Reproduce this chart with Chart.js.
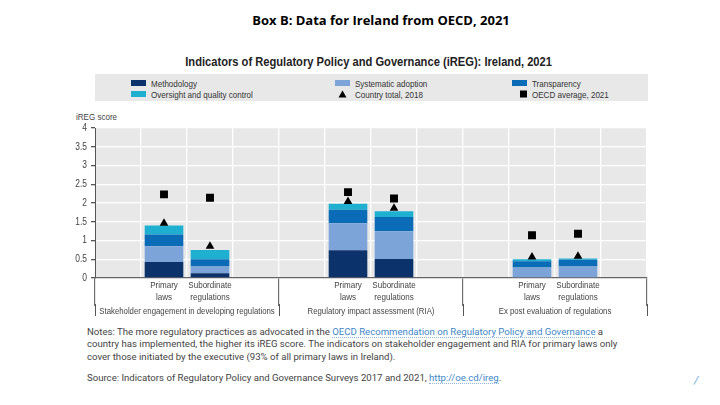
<!DOCTYPE html>
<html>
<head>
<meta charset="utf-8">
<script src="https://cdn.jsdelivr.net/npm/chart.js@4.4.1/dist/chart.umd.min.js"></script>
<style>
  body { margin: 0; width: 720px; height: 405px; background: #fff; position: relative; overflow: hidden; font-family: Roboto, "Liberation Sans", sans-serif; }
  .narrow { font-family: "Liberation Sans", Arial, sans-serif; display: inline-block; transform: scaleX(0.82); white-space: nowrap; }
  #boxTitle { position: absolute; left: 0; width: 762px; top: 11px; text-align: center; font: 700 13px "Open Sans", "Noto Sans", sans-serif; color: #000; }
  #chartTitle { position: absolute; left: 0; width: 738px; top: 53px; text-align: center; font-weight: 700; font-size: 13.6px; color: #222; }
  #chartTitle .narrow { transform-origin: 50% 50%; }
  #legend { position: absolute; left: 95px; top: 74px; width: 553px; height: 27px; background: #e8e8e8; color: #333; font-size: 9.8px; }
  .item { position: absolute; height: 11px; line-height: 11px; white-space: nowrap; }
  .sw { position: absolute; left: 0; top: 2px; width: 15px; height: 6px; }
  .mk { position: absolute; left: 0; top: 0; width: 15px; height: 11px; }
  .item span.narrow { position: absolute; left: 20px; top: 0; transform-origin: 0 50%; }
  #yTitle { position: absolute; left: 76px; top: 111px; font-size: 9.8px; color: #444; }
  #yTitle .narrow { transform-origin: 0 50%; }
  #wrap { position: absolute; left: 40px; top: 104px; width: 620px; height: 220px; }
  #notes { position: absolute; left: 87px; top: 325.5px; font-size: 9.6px; line-height: 12.5px; color: #444; white-space: nowrap; }
  #source { position: absolute; left: 87px; top: 372px; font-size: 9.6px; line-height: 12px; color: #444; white-space: nowrap; }
  .lnk { color: #3d86c6; border-bottom: 1px dotted #8fb6dc; }
  #slash { position: absolute; left: 694px; top: 374px; font-size: 11px; color: #6aa7d6; font-style: italic; }
</style>
</head>
<body>
<div id="boxTitle">Box B: Data for Ireland from OECD, 2021</div>
<div id="chartTitle"><span class="narrow">Indicators of Regulatory Policy and Governance (iREG): Ireland, 2021</span></div>
<div id="legend"></div>
<div id="yTitle"><span class="narrow">iREG score</span></div>
<div id="wrap"><canvas id="chart"></canvas></div>
<div id="notes">Notes: The more regulatory practices as advocated in the <span class="lnk">OECD Recommendation on Regulatory Policy and Governance</span> a<br>country has implemented, the higher its iREG score. The indicators on stakeholder engagement and RIA for primary laws only<br>cover those initiated by the executive (93% of all primary laws in Ireland).</div>
<div id="source">Source: Indicators of Regulatory Policy and Governance Surveys 2017 and 2021, <span class="lnk">http://oe.cd/ireg</span>.</div>
<div id="slash">/</div>
<script>
// 12 slots: each group has an empty slot either side of its two bars
const categories = [
    '', ['Primary', 'laws'], ['Subordinate', 'regulations'], '',
    '', ['Primary', 'laws'], ['Subordinate', 'regulations'], '',
    '', ['Primary', 'laws'], ['Subordinate', 'regulations'], ''
];
const groups = [
    'Stakeholder engagement in developing regulations',
    'Regulatory impact assessment (RIA)',
    'Ex post evaluation of regulations'
];
const methodology  = [null, 0.43, 0.13, null, null, 0.74, 0.51, null, null, 0,    0,    null];
const systematic   = [null, 0.42, 0.18, null, null, 0.72, 0.74, null, null, 0.28, 0.31, null];
const transparency = [null, 0.31, 0.19, null, null, 0.36, 0.38, null, null, 0.17, 0.18, null];
const oversight    = [null, 0.24, 0.25, null, null, 0.16, 0.15, null, null, 0.05, 0.03, null];
const total2018    = [null, 1.46, 0.85, null, null, 2.04, 1.86, null, null, 0.56, 0.58, null];
const oecdAvg2021  = [null, 2.23, 2.14, null, null, 2.29, 2.12, null, null, 1.14, 1.18, null];
const yTicks = [0, 0.5, 1, 1.5, 2, 2.5, 3, 3.5, 4];

const FONT = '"Liberation Sans", Arial, sans-serif';
const AXIS_DARK = '#555';

const plotBackground = {
    id: 'plotBackground',
    beforeDraw(chart) {
        const {ctx, chartArea: a} = chart;
        ctx.save();
        ctx.fillStyle = '#e8e8e8';
        ctx.fillRect(a.left, a.top, a.right - a.left, a.bottom - a.top);
        ctx.restore();
    }
};

// the source uses a narrow face; squeeze canvas text around its anchor to match
const narrowText = {
    id: 'narrowText',
    beforeInit(chart) {
        const ctx = chart.ctx;
        const fill = ctx.fillText.bind(ctx);
        ctx.fillText = function (text, x, y, maxWidth) {
            ctx.save();
            ctx.translate(x, y);
            ctx.scale(0.82, 1);
            fill(text, 0, 0);
            ctx.restore();
        };
    }
};

function bar(label, color, data) {
    return {type: 'bar', label: label, data: data, backgroundColor: color, order: 1,
        categoryPercentage: 1, barPercentage: 0.84, xAxisID: 'x'};
}
function marker(label, style, radius, data) {
    return {type: 'line', label: label, data: data, showLine: false, stack: label, order: 0,
        pointStyle: style, pointRadius: radius, pointBackgroundColor: '#000', pointBorderColor: '#000',
        pointBorderWidth: 0, backgroundColor: '#000', xAxisID: 'x'};
}

const chart = new Chart(document.getElementById('chart'), {
    data: {
        labels: categories,
        datasets: [
            bar('Methodology', '#0c326b', methodology),
            bar('Systematic adoption', '#7ca4d8', systematic),
            bar('Transparency', '#0a6bb7', transparency),
            bar('Oversight and quality control', '#1fafd0', oversight),
            marker('Country total, 2018', 'triangle', 5, total2018),
            marker('OECD average, 2021', 'rect', 5.6, oecdAvg2021)
        ]
    },
    options: {
        responsive: true,
        maintainAspectRatio: false,
        animation: false,
        layout: {padding: {left: 0, right: 13, top: 24, bottom: 0}},
        plugins: {legend: {display: false}, tooltip: {enabled: false}},
        scales: {
            x: {
                type: 'category',
                stacked: true,
                offset: true,
                grid: {
                    offset: true,
                    color: '#ffffff',
                    lineWidth: 1.3,
                    drawTicks: true,
                    tickLength: 28,
                    tickWidth: 1,
                    tickColor: ctx => (ctx.index === undefined || ctx.index % 4 === 0) ? AXIS_DARK : 'rgba(0,0,0,0)'
                },
                border: {display: true, color: '#666', width: 1.3},
                ticks: {
                    autoSkip: false, maxRotation: 0, padding: -26,
                    color: '#444', font: {family: FONT, size: 9.8, lineHeight: 1.18}
                },
                afterFit: s => { s.height = 26; }
            },
            x2: {
                type: 'category',
                position: 'bottom',
                labels: groups,
                offset: true,
                grid: {
                    offset: true, drawOnChartArea: false, drawTicks: true,
                    tickLength: 12, tickColor: AXIS_DARK, tickWidth: 1
                },
                border: {display: false},
                ticks: {
                    autoSkip: false, maxRotation: 0, padding: -10.5,
                    color: '#444', font: {family: FONT, size: 9.5, lineHeight: 1.2}
                },
                afterFit: s => { s.height = 20; }
            },
            y: {
                stacked: true,
                min: 0,
                max: 4,
                grid: {color: '#ffffff', lineWidth: 1.3, drawTicks: true, tickLength: 4, tickColor: AXIS_DARK},
                border: {display: true, color: AXIS_DARK, width: 1},
                ticks: {color: '#444', padding: 4, font: {family: FONT, size: 10.3}, callback: v => String(v)},
                afterBuildTicks: s => { s.ticks = yTicks.map(v => ({value: v})); },
                afterFit: s => { s.width = 55; }
            }
        }
    },
    plugins: [plotBackground, narrowText]
});

// legend box, three columns by two rows, built from the chart datasets
const legendCols = [36, 240, 417];
const legendRows = [4, 15];
const legendEl = document.getElementById('legend');
chart.data.datasets.forEach((ds, k) => {
    const item = document.createElement('div');
    item.className = 'item';
    item.style.left = legendCols[k % 3] + 'px';
    item.style.top = legendRows[Math.floor(k / 3)] + 'px';
    let mark;
    if (ds.type === 'bar') {
        mark = '<div class="sw" style="background:' + ds.backgroundColor + '"></div>';
    } else if (ds.pointStyle === 'triangle') {
        mark = '<svg class="mk" viewBox="0 0 15 11"><polygon points="7.5,1.5 11.5,8.5 3.5,8.5" fill="#000"/></svg>';
    } else {
        mark = '<svg class="mk" viewBox="0 0 15 11"><rect x="8" y="1.5" width="7" height="7" fill="#000"/></svg>';
    }
    item.innerHTML = mark + '<span class="narrow">' + ds.label + '</span>';
    legendEl.appendChild(item);
});
</script>
</body>
</html>
